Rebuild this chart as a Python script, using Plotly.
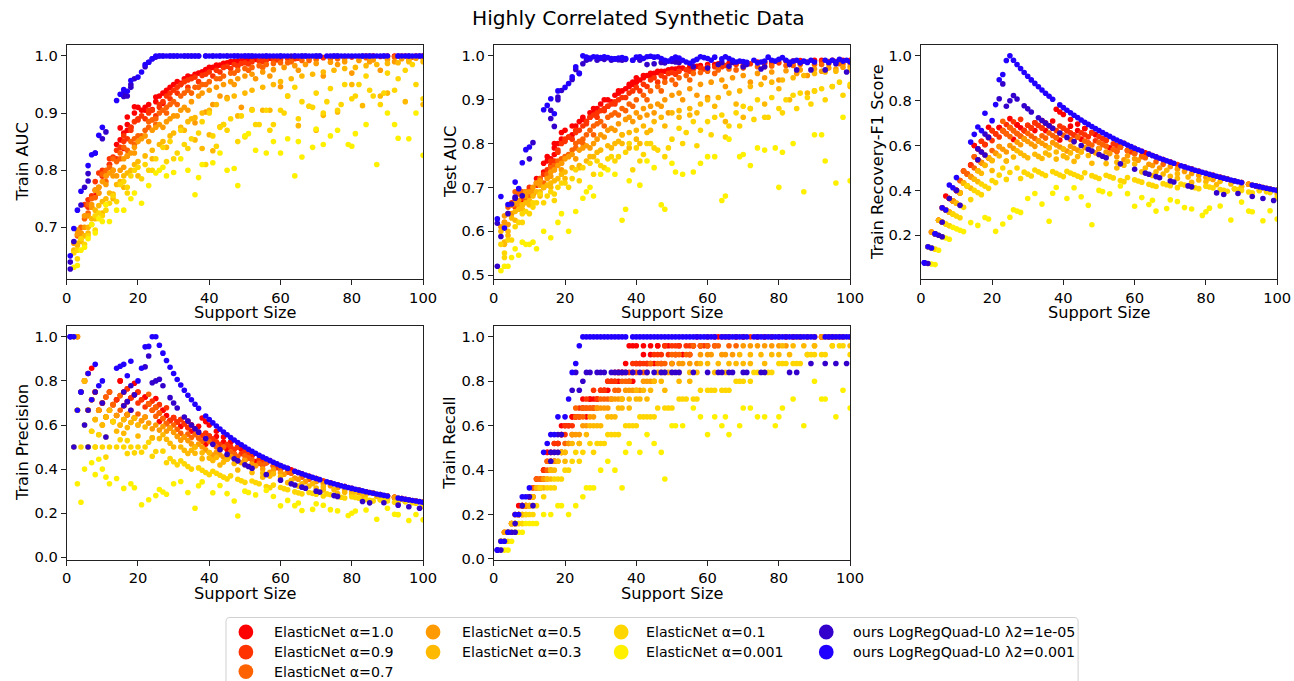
import plotly.graph_objects as go

# The photographed picture shows the page slightly reduced (about 0.990 x 0.9875), so
# the figure is made a little larger than 1294x681 and reference pixel positions are
# divided by these factors before use.
SX, SY = 0.990, 0.9875
W, H = 1310, 690
N_TRUE = 25  # number of truly relevant features (recall moves in steps of 0.04)

# ---------------- data (support size, true positives found, train AUC, test AUC) ----------------
en100_support = [7, 8, 10, 12, 14, 14, 15, 16, 17, 17,
                 18, 19, 20, 21, 22, 23, 24, 25, 26, 27,
                 28, 29, 30, 31, 32, 33, 34, 35, 36, 37,
                 38, 39, 40, 41, 42, 43, 44, 45, 46, 47,
                 48, 50, 51, 53, 55, 56, 58, 60, 63, 66,
                 70, 74, 78, 82, 86, 90, 95, 100,
                 15, 16, 17, 19, 22, 25, 27, 28, 32, 35,
                 38, 39, 40, 42, 44, 46, 49, 52, 57, 62,
                 68, 76, 84, 92, 98]
en100_true_pos = [6, 6, 7, 9, 10, 10, 12, 12, 12, 11,
                  13, 15, 15, 15, 16, 16, 16, 17, 16, 18,
                  18, 18, 19, 19, 19, 20, 21, 20, 21, 22,
                  20, 20, 22, 22, 23, 22, 23, 22, 24, 22,
                  24, 22, 23, 23, 23, 24, 24, 24, 25, 25,
                  25, 25, 25, 25, 25, 25, 25, 25,
                  12, 11, 13, 14, 16, 18, 18, 17, 20, 21,
                  24, 24, 24, 24, 24, 24, 24, 24, 25, 25,
                  25, 25, 25, 25, 25]
en100_train_auc = [0.752, 0.755, 0.79, 0.81, 0.845, 0.818, 0.853, 0.865, 0.87, 0.88,
                   0.875, 0.9, 0.91, 0.905, 0.91, 0.915, 0.906, 0.92, 0.93, 0.935,
                   0.94, 0.945, 0.95, 0.955, 0.95, 0.96, 0.965, 0.962, 0.968, 0.97,
                   0.972, 0.974, 0.978, 0.98, 0.982, 0.984, 0.986, 0.988, 0.989, 0.99,
                   0.991, 0.992, 0.993, 0.994, 0.995, 0.995, 0.996, 0.997, 0.997, 0.998,
                   0.998, 0.999, 0.999, 0.999, 1.0, 1.0, 1.0, 1.0,
                   0.874, 0.838, 0.893, 0.911, 0.905, 0.928, 0.917, 0.937, 0.952, 0.963,
                   0.972, 0.976, 0.98, 0.984, 0.987, 0.99, 0.992, 0.994, 0.996, 0.997,
                   0.998, 0.999, 1.0, 1.0, 1.0]
en100_test_auc = [0.662, 0.668, 0.69, 0.72, 0.755, 0.735, 0.77, 0.765, 0.79, 0.775,
                  0.8, 0.825, 0.83, 0.815, 0.82, 0.84, 0.85, 0.855, 0.85, 0.87,
                  0.87, 0.88, 0.89, 0.9, 0.885, 0.895, 0.91, 0.915, 0.92, 0.925,
                  0.93, 0.935, 0.94, 0.945, 0.95, 0.955, 0.955, 0.96, 0.962, 0.965,
                  0.965, 0.97, 0.97, 0.972, 0.975, 0.975, 0.978, 0.98, 0.982, 0.983,
                  0.985, 0.986, 0.987, 0.988, 0.989, 0.99, 0.99, 0.99,
                  0.76, 0.745, 0.8, 0.81, 0.84, 0.86, 0.86, 0.88, 0.9, 0.92,
                  0.935, 0.94, 0.95, 0.955, 0.96, 0.965, 0.968, 0.972, 0.976, 0.98,
                  0.983, 0.986, 0.988, 0.99, 0.99]

en090_support = [5, 6, 7, 8, 9, 10, 11, 12, 13, 14,
                 15, 16, 17, 18, 19, 20, 22, 23, 24, 25,
                 26, 27, 28, 29, 30, 31, 32, 33, 34, 35,
                 36, 38, 39, 40, 42, 44, 45, 47, 49, 50,
                 52, 54, 56, 58, 60, 62, 65, 68, 72, 76,
                 80, 84, 88, 92, 96, 100,
                 6, 8, 10, 12, 14, 16, 18, 20, 21, 23,
                 26, 29, 31, 34, 37, 41, 43, 46, 48, 51,
                 55, 59, 64, 70, 78, 86, 94]
en090_true_pos = [4, 5, 5, 6, 6, 7, 8, 8, 9, 10,
                  11, 11, 13, 13, 14, 15, 15, 16, 17, 17,
                  18, 17, 19, 18, 19, 19, 20, 20, 20, 21,
                  21, 21, 22, 22, 22, 22, 23, 23, 23, 24,
                  24, 24, 24, 24, 25, 24, 25, 25, 25, 25,
                  25, 25, 25, 25, 25, 25,
                  4, 6, 7, 9, 9, 12, 13, 14, 15, 16,
                  17, 18, 19, 20, 21, 22, 22, 23, 24, 24,
                  24, 24, 25, 25, 25, 25, 25]
en090_train_auc = [0.74, 0.748, 0.755, 0.78, 0.795, 0.8, 0.79, 0.82, 0.823, 0.82,
                   0.84, 0.85, 0.855, 0.875, 0.885, 0.888, 0.89, 0.9, 0.905, 0.895,
                   0.91, 0.92, 0.93, 0.935, 0.94, 0.945, 0.95, 0.955, 0.958, 0.96,
                   0.963, 0.966, 0.968, 0.972, 0.975, 0.98, 0.982, 0.985, 0.987, 0.988,
                   0.99, 0.991, 0.992, 0.993, 0.994, 0.995, 0.996, 0.996, 0.997, 0.998,
                   0.998, 0.999, 0.999, 0.999, 0.999, 1.0,
                   0.735, 0.765, 0.79, 0.81, 0.835, 0.86, 0.87, 0.89, 0.895, 0.905,
                   0.915, 0.925, 0.935, 0.945, 0.955, 0.965, 0.972, 0.978, 0.982, 0.986,
                   0.99, 0.993, 0.995, 0.997, 0.998, 0.999, 1.0]
en090_test_auc = [0.665, 0.67, 0.66, 0.675, 0.69, 0.7, 0.685, 0.71, 0.72, 0.7,
                  0.74, 0.75, 0.76, 0.785, 0.8, 0.805, 0.81, 0.825, 0.83, 0.84,
                  0.845, 0.86, 0.865, 0.87, 0.875, 0.88, 0.885, 0.89, 0.895, 0.9,
                  0.905, 0.915, 0.92, 0.928, 0.935, 0.945, 0.95, 0.955, 0.96, 0.962,
                  0.965, 0.968, 0.97, 0.972, 0.975, 0.975, 0.978, 0.98, 0.982, 0.983,
                  0.984, 0.985, 0.986, 0.987, 0.987, 0.988,
                  0.655, 0.68, 0.695, 0.705, 0.73, 0.76, 0.78, 0.81, 0.815, 0.83,
                  0.85, 0.86, 0.875, 0.89, 0.905, 0.92, 0.93, 0.94, 0.95, 0.958,
                  0.965, 0.97, 0.975, 0.978, 0.982, 0.985, 0.987]

en070_support = [3, 4, 5, 6, 7, 8, 9, 10, 11, 12,
                 13, 14, 15, 16, 17, 18, 19, 20, 22, 23,
                 24, 25, 26, 27, 28, 29, 30, 32, 33, 34,
                 36, 38, 40, 42, 44, 46, 48, 50, 52, 54,
                 56, 58, 60, 63, 66, 70, 74, 78, 82, 86,
                 90, 94, 98, 100,
                 4, 6, 7, 9, 11, 13, 15, 17, 19, 21,
                 23, 25, 28, 31, 35, 37, 39, 43, 47, 51,
                 55, 62, 68, 76, 84, 92, 97]
en070_true_pos = [3, 3, 4, 5, 5, 6, 6, 7, 7, 9,
                  9, 9, 11, 11, 11, 12, 12, 13, 14, 17,
                  16, 16, 17, 17, 17, 17, 18, 18, 18, 19,
                  20, 20, 21, 21, 22, 22, 22, 23, 23, 23,
                  24, 24, 24, 24, 24, 25, 25, 25, 25, 25,
                  25, 25, 25, 25,
                  3, 4, 5, 6, 8, 9, 10, 11, 12, 13,
                  16, 17, 17, 18, 19, 20, 21, 21, 22, 23,
                  23, 24, 24, 25, 25, 25, 25]
en070_train_auc = [0.685, 0.69, 0.715, 0.74, 0.75, 0.752, 0.77, 0.793, 0.8, 0.805,
                   0.82, 0.815, 0.83, 0.84, 0.835, 0.85, 0.855, 0.86, 0.87, 0.885,
                   0.888, 0.89, 0.9, 0.905, 0.91, 0.915, 0.92, 0.93, 0.935, 0.94,
                   0.945, 0.95, 0.955, 0.96, 0.965, 0.97, 0.975, 0.978, 0.98, 0.983,
                   0.985, 0.987, 0.988, 0.99, 0.992, 0.994, 0.995, 0.996, 0.997, 0.997,
                   0.998, 0.998, 0.998, 0.999,
                   0.7, 0.725, 0.735, 0.76, 0.78, 0.8, 0.82, 0.825, 0.845, 0.86,
                   0.875, 0.88, 0.9, 0.915, 0.935, 0.945, 0.95, 0.96, 0.97, 0.975,
                   0.98, 0.988, 0.992, 0.995, 0.997, 0.998, 0.998]
en070_test_auc = [0.62, 0.64, 0.66, 0.69, 0.695, 0.69, 0.675, 0.68, 0.69, 0.71,
                  0.72, 0.71, 0.73, 0.745, 0.75, 0.76, 0.765, 0.77, 0.785, 0.8,
                  0.805, 0.81, 0.82, 0.83, 0.84, 0.845, 0.85, 0.86, 0.865, 0.87,
                  0.88, 0.89, 0.9, 0.91, 0.92, 0.93, 0.94, 0.945, 0.95, 0.955,
                  0.96, 0.962, 0.965, 0.968, 0.97, 0.972, 0.975, 0.977, 0.978, 0.98,
                  0.98, 0.982, 0.982, 0.983,
                  0.655, 0.66, 0.685, 0.67, 0.685, 0.71, 0.725, 0.74, 0.755, 0.775,
                  0.79, 0.8, 0.82, 0.84, 0.865, 0.875, 0.885, 0.9, 0.92, 0.935,
                  0.945, 0.96, 0.968, 0.975, 0.978, 0.98, 0.982]

en050_support = [2, 3, 4, 5, 6, 7, 8, 9, 10, 11,
                 12, 13, 14, 15, 16, 17, 18, 19, 20, 21,
                 22, 24, 25, 26, 28, 29, 30, 32, 33, 35,
                 37, 38, 40, 42, 44, 46, 48, 50, 52, 55,
                 58, 61, 64, 67, 70, 74, 78, 82, 86, 90,
                 94, 98, 100,
                 3, 5, 7, 9, 11, 13, 16, 19, 23, 27,
                 31, 34, 36, 39, 41, 43, 45, 47, 49, 53,
                 57, 60, 65, 72, 76, 80, 85, 88, 92, 96]
en050_true_pos = [2, 3, 3, 4, 4, 5, 5, 6, 6, 7,
                  8, 8, 9, 9, 10, 11, 11, 12, 12, 13,
                  14, 14, 15, 15, 16, 17, 17, 17, 18, 18,
                  19, 19, 19, 20, 20, 21, 21, 22, 22, 22,
                  23, 23, 23, 23, 24, 24, 24, 24, 25, 25,
                  25, 25, 25,
                  3, 4, 5, 6, 7, 8, 10, 12, 14, 16,
                  17, 18, 18, 19, 19, 20, 20, 21, 21, 22,
                  22, 23, 23, 24, 24, 24, 25, 25, 25, 25]
en050_train_auc = [0.672, 0.688, 0.69, 0.7, 0.72, 0.74, 0.765, 0.77, 0.78, 0.79,
                   0.795, 0.8, 0.79, 0.8, 0.82, 0.825, 0.83, 0.84, 0.85, 0.855,
                   0.86, 0.87, 0.875, 0.88, 0.885, 0.89, 0.895, 0.905, 0.91, 0.92,
                   0.93, 0.935, 0.94, 0.945, 0.95, 0.955, 0.96, 0.965, 0.968, 0.972,
                   0.976, 0.98, 0.983, 0.985, 0.987, 0.989, 0.99, 0.992, 0.993, 0.994,
                   0.995, 0.996, 0.996,
                   0.695, 0.72, 0.735, 0.76, 0.775, 0.79, 0.805, 0.83, 0.85, 0.875,
                   0.895, 0.905, 0.883, 0.902, 0.915, 0.93, 0.927, 0.95, 0.91, 0.96,
                   0.965, 0.946, 0.975, 0.965, 0.985, 0.97, 0.99, 0.975, 0.99, 0.993]
en050_test_auc = [0.61, 0.635, 0.615, 0.64, 0.665, 0.67, 0.66, 0.69, 0.69, 0.7,
                  0.71, 0.715, 0.7, 0.72, 0.735, 0.74, 0.75, 0.755, 0.765, 0.77,
                  0.775, 0.785, 0.79, 0.795, 0.8, 0.81, 0.82, 0.83, 0.835, 0.845,
                  0.855, 0.86, 0.87, 0.88, 0.885, 0.89, 0.9, 0.91, 0.915, 0.925,
                  0.935, 0.94, 0.945, 0.95, 0.955, 0.96, 0.963, 0.966, 0.968, 0.97,
                  0.972, 0.974, 0.975,
                  0.62, 0.66, 0.66, 0.68, 0.69, 0.705, 0.725, 0.74, 0.765, 0.79,
                  0.815, 0.83, 0.82, 0.85, 0.86, 0.865, 0.87, 0.885, 0.87, 0.9,
                  0.91, 0.905, 0.93, 0.94, 0.95, 0.945, 0.96, 0.955, 0.965, 0.97]

en030_support = [2, 3, 4, 5, 6, 7, 8, 9, 10, 11,
                 12, 13, 14, 15, 16, 17, 18, 19, 20, 22,
                 24, 26, 27, 29, 30, 32, 34, 35, 36, 38,
                 40, 42, 45, 47, 50, 52, 55, 58, 60, 63,
                 66, 69, 72, 75, 78, 81, 84, 87, 90, 93,
                 96, 100,
                 3, 4, 6, 8, 10, 13, 16, 20, 24, 28,
                 33, 36, 38, 40, 41, 43, 44, 48, 52, 55,
                 57, 62, 65, 68, 70, 72, 76, 80, 83, 88,
                 90, 95, 100]
en030_true_pos = [2, 2, 3, 4, 4, 4, 5, 5, 6, 7,
                  8, 8, 8, 9, 10, 10, 11, 12, 12, 13,
                  13, 14, 15, 15, 15, 16, 16, 17, 18, 18,
                  19, 19, 20, 20, 21, 21, 21, 22, 22, 22,
                  22, 23, 23, 23, 23, 24, 24, 24, 24, 25,
                  25, 25,
                  2, 3, 4, 5, 6, 8, 9, 11, 13, 15,
                  16, 17, 17, 18, 18, 18, 19, 19, 20, 20,
                  21, 21, 21, 22, 22, 22, 22, 23, 23, 23,
                  24, 24, 24]
en030_train_auc = [0.66, 0.668, 0.675, 0.685, 0.7, 0.715, 0.73, 0.738, 0.745, 0.75,
                   0.76, 0.758, 0.775, 0.78, 0.79, 0.795, 0.8, 0.81, 0.815, 0.825,
                   0.835, 0.845, 0.85, 0.86, 0.865, 0.875, 0.885, 0.89, 0.892, 0.9,
                   0.905, 0.915, 0.925, 0.93, 0.935, 0.94, 0.945, 0.95, 0.955, 0.96,
                   0.965, 0.968, 0.972, 0.975, 0.978, 0.98, 0.983, 0.985, 0.987, 0.988,
                   0.99, 0.99,
                   0.672, 0.68, 0.69, 0.715, 0.725, 0.75, 0.77, 0.79, 0.82, 0.84,
                   0.87, 0.853, 0.838, 0.862, 0.834, 0.876, 0.88, 0.895, 0.906, 0.905,
                   0.905, 0.93, 0.878, 0.912, 0.87, 0.896, 0.902, 0.95, 0.913, 0.93,
                   0.935, 0.92, 0.915]
en030_test_auc = [0.6, 0.57, 0.6, 0.63, 0.645, 0.65, 0.66, 0.665, 0.67, 0.68,
                  0.69, 0.69, 0.7, 0.705, 0.71, 0.715, 0.72, 0.73, 0.735, 0.745,
                  0.75, 0.76, 0.77, 0.78, 0.785, 0.795, 0.8, 0.805, 0.82, 0.825,
                  0.83, 0.84, 0.85, 0.86, 0.87, 0.875, 0.88, 0.89, 0.9, 0.905,
                  0.915, 0.92, 0.93, 0.935, 0.94, 0.945, 0.95, 0.955, 0.96, 0.963,
                  0.965, 0.968,
                  0.575, 0.59, 0.625, 0.65, 0.66, 0.68, 0.7, 0.72, 0.745, 0.77,
                  0.79, 0.8, 0.79, 0.81, 0.8, 0.825, 0.83, 0.84, 0.86, 0.865,
                  0.87, 0.885, 0.85, 0.89, 0.86, 0.88, 0.89, 0.925, 0.9, 0.915,
                  0.92, 0.93, 0.93]

en010_support = [2, 3, 4, 6, 7, 8, 9, 10, 11, 12,
                 13, 15, 16, 17, 18, 19, 20, 22, 23, 25,
                 27, 29, 30, 32, 33, 35, 37, 38, 40, 41,
                 43, 44, 46, 49, 50, 52, 54, 56, 58, 60,
                 62, 64, 66, 68, 70, 72, 74, 76, 78, 80,
                 82, 84, 86, 88, 90, 92, 95, 97, 100,
                 3, 5, 8, 11, 14, 17, 21, 24, 28, 31,
                 34, 39, 42, 45, 48, 53, 57, 61, 65, 69,
                 73, 77, 81, 85, 89, 93, 98]
en010_true_pos = [2, 2, 2, 3, 4, 4, 5, 5, 5, 6,
                  8, 8, 8, 9, 9, 9, 10, 11, 12, 12,
                  13, 13, 13, 14, 14, 14, 15, 15, 15, 16,
                  16, 16, 17, 17, 17, 18, 18, 18, 19, 19,
                  19, 19, 19, 20, 20, 20, 21, 21, 21, 22,
                  22, 22, 22, 23, 23, 23, 24, 24, 23,
                  2, 3, 4, 6, 7, 8, 10, 11, 12, 13,
                  14, 15, 16, 16, 17, 18, 18, 19, 19, 20,
                  21, 21, 22, 22, 23, 23, 24]
en010_train_auc = [0.655, 0.66, 0.68, 0.685, 0.705, 0.72, 0.725, 0.72, 0.74, 0.742,
                   0.755, 0.775, 0.78, 0.76, 0.79, 0.8, 0.805, 0.81, 0.8, 0.82,
                   0.84, 0.85, 0.82, 0.87, 0.845, 0.855, 0.865, 0.885, 0.9, 0.86,
                   0.875, 0.88, 0.89, 0.895, 0.858, 0.905, 0.88, 0.905, 0.88, 0.905,
                   0.93, 0.945, 0.92, 0.912, 0.935, 0.9, 0.943, 0.905, 0.95, 0.925,
                   0.95, 0.965, 0.93, 0.915, 0.97, 0.94, 0.975, 0.985, 0.925,
                   0.645, 0.67, 0.695, 0.73, 0.745, 0.77, 0.785, 0.8, 0.815, 0.83,
                   0.838, 0.81, 0.842, 0.87, 0.85, 0.88, 0.87, 0.9, 0.89, 0.91,
                   0.92, 0.915, 0.93, 0.94, 0.935, 0.96, 0.95]
en010_test_auc = [0.57, 0.55, 0.58, 0.61, 0.62, 0.64, 0.645, 0.64, 0.665, 0.665,
                  0.685, 0.68, 0.69, 0.67, 0.7, 0.71, 0.71, 0.72, 0.74, 0.745,
                  0.755, 0.76, 0.75, 0.765, 0.77, 0.77, 0.78, 0.8, 0.79, 0.76,
                  0.8, 0.8, 0.785, 0.79, 0.81, 0.835, 0.825, 0.85, 0.83, 0.85,
                  0.86, 0.865, 0.84, 0.87, 0.885, 0.88, 0.9, 0.86, 0.905, 0.88,
                  0.9, 0.91, 0.915, 0.905, 0.92, 0.925, 0.93, 0.94, 0.935,
                  0.54, 0.58, 0.62, 0.655, 0.665, 0.685, 0.7, 0.715, 0.73, 0.745,
                  0.76, 0.74, 0.775, 0.79, 0.77, 0.8, 0.795, 0.82, 0.815, 0.84,
                  0.855, 0.86, 0.87, 0.88, 0.89, 0.9, 0.91]

en0001_support = [2, 3, 4, 5, 6, 7, 8, 9, 10, 11,
                  12, 14, 16, 18, 19, 21, 23, 25, 26, 27,
                  28, 30, 32, 34, 36, 37, 38, 41, 43, 45,
                  47, 48, 50, 51, 53, 56, 58, 60, 62, 64,
                  65, 66, 69, 70, 72, 74, 76, 79, 80, 81,
                  84, 87, 90, 92, 93, 96, 98, 100]
en0001_true_pos = [1, 1, 1, 2, 3, 3, 3, 4, 4, 4,
                   4, 5, 5, 6, 6, 5, 6, 7, 8, 8,
                   8, 10, 11, 10, 8, 12, 13, 12, 14, 13,
                   12, 9, 15, 15, 15, 17, 16, 14, 16, 15,
                   16, 14, 15, 17, 17, 16, 16, 15, 16, 17,
                   18, 15, 20, 18, 18, 16, 19, 17]
en0001_train_auc = [0.63, 0.633, 0.66, 0.665, 0.68, 0.705, 0.69, 0.715, 0.71, 0.74,
                    0.71, 0.73, 0.73, 0.75, 0.76, 0.742, 0.773, 0.795, 0.8, 0.805,
                    0.79, 0.796, 0.82, 0.8, 0.757, 0.787, 0.81, 0.813, 0.83, 0.8,
                    0.803, 0.773, 0.86, 0.864, 0.835, 0.83, 0.85, 0.83, 0.855, 0.79,
                    0.85, 0.823, 0.84, 0.872, 0.845, 0.86, 0.87, 0.845, 0.842, 0.864,
                    0.88, 0.81, 0.9, 0.88, 0.856, 0.855, 0.9, 0.826]
en0001_test_auc = [0.51, 0.52, 0.52, 0.54, 0.56, 0.545, 0.575, 0.57, 0.57, 0.575,
                   0.56, 0.6, 0.585, 0.62, 0.64, 0.6, 0.645, 0.675, 0.69, 0.7,
                   0.68, 0.73, 0.74, 0.73, 0.625, 0.65, 0.715, 0.705, 0.76, 0.745,
                   0.66, 0.65, 0.755, 0.735, 0.73, 0.735, 0.755, 0.77, 0.77, 0.67,
                   0.68, 0.81, 0.77, 0.775, 0.75, 0.79, 0.785, 0.79, 0.7, 0.78,
                   0.8, 0.69, 0.82, 0.82, 0.76, 0.71, 0.86, 0.715]

ours_l5_support = [1, 1, 2, 4, 5, 6, 6, 8, 10, 11,
                   16, 16, 17, 18, 18, 19, 22, 23, 24, 25,
                   26, 27, 29, 30, 31, 33, 34, 35, 36, 37,
                   39, 41, 43, 45, 47, 48, 50, 51, 52, 56,
                   60, 63, 64, 66, 67, 70, 71, 75, 76, 83,
                   85, 89, 93, 96, 99]
ours_l5_true_pos = [1, 1, 1, 3, 3, 4, 3, 6, 7, 6,
                    12, 11, 12, 14, 12, 14, 19, 21, 19, 20,
                    21, 21, 21, 21, 21, 21, 21, 21, 21, 21,
                    21, 21, 21, 21, 21, 21, 21, 21, 21, 21,
                    21, 21, 21, 21, 21, 21, 21, 21, 21, 21,
                    21, 22, 22, 22, 22]
ours_l5_train_auc = [0.627, 0.639, 0.675, 0.739, 0.77, 0.794, 0.781, 0.83, 0.855, 0.867,
                     0.929, 0.935, 0.93, 0.95, 0.945, 0.96, 0.981, 0.989, 0.995, 0.998,
                     1.0, 1.0, 1.0, 1.0, 1.0, 1.0, 1.0, 1.0, 1.0, 1.0,
                     1.0, 1.0, 1.0, 1.0, 1.0, 1.0, 1.0, 1.0, 1.0, 1.0,
                     1.0, 1.0, 1.0, 1.0, 1.0, 1.0, 1.0, 1.0, 1.0, 1.0,
                     1.0, 1.0, 1.0, 1.0, 1.0]
ours_l5_test_auc = [0.52, 0.618, 0.588, 0.64, 0.662, 0.678, 0.675, 0.681, 0.765, 0.802,
                    0.876, 0.857, 0.839, 0.906, 0.9, 0.921, 0.946, 0.969, 0.96, 0.982,
                    0.99, 0.993, 0.99, 0.994, 0.992, 0.99, 0.993, 0.991, 0.99, 0.992,
                    0.99, 0.99, 0.98, 0.982, 0.985, 0.984, 0.987, 0.986, 0.985, 0.975,
                    0.972, 0.98, 0.985, 0.976, 0.985, 0.975, 0.98, 0.97, 0.975, 0.98,
                    0.968, 0.968, 0.968, 0.982, 0.963]

ours_l3_support = [1, 2, 3, 4, 6, 7, 8, 9, 10, 14,
                   15, 16, 17, 18, 20, 21, 22, 23, 24, 25,
                   26, 27, 28, 29, 30, 31, 32, 33, 34, 35,
                   36, 37, 39, 40, 41, 42, 43, 44, 45, 46,
                   47, 48, 49, 50, 51, 52, 53, 54, 55, 56,
                   57, 58, 59, 60, 61, 62, 64, 65, 66, 67,
                   68, 69, 70, 71, 73, 74, 75, 76, 77, 78,
                   79, 80, 81, 82, 83, 84, 85, 86, 87, 88,
                   89, 90, 93, 94, 95, 96, 97, 98, 99, 100]
ours_l3_true_pos = [1, 2, 2, 3, 5, 5, 7, 7, 8, 12,
                    13, 14, 14, 16, 16, 18, 21, 22, 24, 25,
                    25, 25, 25, 25, 25, 25, 25, 25, 25, 25,
                    25, 25, 25, 25, 25, 25, 25, 25, 25, 25,
                    25, 25, 25, 25, 25, 25, 25, 25, 25, 25,
                    25, 25, 25, 25, 25, 25, 25, 25, 25, 25,
                    25, 25, 25, 25, 25, 25, 25, 25, 25, 25,
                    25, 25, 25, 25, 25, 25, 25, 25, 25, 25,
                    25, 25, 25, 25, 25, 25, 25, 25, 25, 25]
ours_l3_train_auc = [0.65, 0.698, 0.73, 0.763, 0.808, 0.827, 0.83, 0.861, 0.875, 0.922,
                     0.933, 0.941, 0.938, 0.957, 0.963, 0.972, 0.985, 0.989, 0.995, 1.0,
                     1.0, 1.0, 1.0, 1.0, 1.0, 1.0, 1.0, 1.0, 1.0, 1.0,
                     1.0, 1.0, 1.0, 1.0, 1.0, 1.0, 1.0, 1.0, 1.0, 1.0,
                     1.0, 1.0, 1.0, 1.0, 1.0, 1.0, 1.0, 1.0, 1.0, 1.0,
                     1.0, 1.0, 1.0, 1.0, 1.0, 1.0, 1.0, 1.0, 1.0, 1.0,
                     1.0, 1.0, 1.0, 1.0, 1.0, 1.0, 1.0, 1.0, 1.0, 1.0,
                     1.0, 1.0, 1.0, 1.0, 1.0, 1.0, 1.0, 1.0, 1.0, 1.0,
                     1.0, 1.0, 1.0, 1.0, 1.0, 1.0, 1.0, 1.0, 1.0, 1.0]
ours_l3_test_auc = [0.628, 0.679, 0.607, 0.661, 0.712, 0.697, 0.756, 0.786, 0.792, 0.877,
                    0.887, 0.902, 0.868, 0.92, 0.928, 0.937, 0.952, 0.975, 0.96, 1.0,
                    0.997, 0.995, 0.998, 0.997, 0.996, 0.998, 0.996, 0.994, 0.993, 0.995,
                    0.996, 0.994, 0.99, 0.997, 0.998, 0.994, 0.998, 0.999, 0.997, 0.998,
                    0.994, 0.99, 0.988, 0.993, 0.997, 0.995, 0.99, 0.986, 0.983, 0.988,
                    0.992, 0.998, 0.996, 0.994, 0.99, 0.997, 0.993, 0.998, 0.994, 0.99,
                    0.986, 0.988, 0.987, 0.985, 0.99, 0.984, 0.986, 0.988, 0.997, 0.99,
                    0.988, 0.992, 0.996, 0.99, 0.985, 0.988, 0.99, 0.984, 0.988, 0.985,
                    0.99, 0.986, 0.99, 0.985, 0.99, 0.986, 0.992, 0.988, 0.99, 0.986]

series_names = ["ElasticNet α=1.0", "ElasticNet α=0.9", "ElasticNet α=0.7",
                "ElasticNet α=0.5", "ElasticNet α=0.3", "ElasticNet α=0.1",
                "ElasticNet α=0.001", "ours LogRegQuad-L0 λ2=1e-05",
                "ours LogRegQuad-L0 λ2=0.001"]
series_colors = ["#FF0000", "#FF3300", "#FF6200", "#FF9A00", "#FFB900",
                 "#FFD600", "#FFF000", "#3300CC", "#2200FF"]
series_data = [
    (en100_support, en100_true_pos, en100_train_auc, en100_test_auc),
    (en090_support, en090_true_pos, en090_train_auc, en090_test_auc),
    (en070_support, en070_true_pos, en070_train_auc, en070_test_auc),
    (en050_support, en050_true_pos, en050_train_auc, en050_test_auc),
    (en030_support, en030_true_pos, en030_train_auc, en030_test_auc),
    (en010_support, en010_true_pos, en010_train_auc, en010_test_auc),
    (en0001_support, en0001_true_pos, en0001_train_auc, en0001_test_auc),
    (ours_l5_support, ours_l5_true_pos, ours_l5_train_auc, ours_l5_test_auc),
    (ours_l3_support, ours_l3_true_pos, ours_l3_train_auc, ours_l3_test_auc),
]

x_ticks = [0, 20, 40, 60, 80, 100]
panel_titles = ["Train AUC", "Test AUC", "Train Recovery-F1 Score",
                "Train Precision", "Train Recall"]
panel_yticks = [[0.7, 0.8, 0.9, 1.0],
                [0.5, 0.6, 0.7, 0.8, 0.9, 1.0],
                [0.2, 0.4, 0.6, 0.8, 1.0],
                [0.0, 0.2, 0.4, 0.6, 0.8, 1.0],
                [0.0, 0.2, 0.4, 0.6, 0.8, 1.0]]


def metric(idx, key):
    support, tp, train, test = series_data[idx]
    n = min(len(support), len(tp), len(train), len(test))
    support, tp, train, test = support[:n], tp[:n], train[:n], test[:n]
    if key == "train":
        return train
    if key == "test":
        return test
    if key == "f1":
        return [2 * t / (k + N_TRUE) for t, k in zip(tp, support)]
    if key == "prec":
        return [t / k for t, k in zip(tp, support)]
    return [t / N_TRUE for t in tp]


# ---------------- layout geometry (reference pixels -> paper fractions) ----------------
def fx(px):
    return px / SX / W


def fy(py):
    return 1 - py / SY / H


panel_keys = ["train", "test", "f1", "prec", "rec"]
panel_px_x = [(62, 420), (491, 849), (920, 1278), (62, 420), (491, 849)]
panel_px_y = [(45, 278.3), (45, 278.3), (45, 278.3), (325, 558.3), (325, 558.3)]
panel_yrange = [[0.6095, 1.019], [0.491, 1.0245], [0.005, 1.048],
                [-0.0105, 1.05], [-0.003, 1.05]]
ytitle_px_x = [17.5, 447, 876, 17.5, 447]

FONT = "DejaVu Sans"
fig = go.Figure()
annotations = []
layout_axes = {}

for p, key in enumerate(panel_keys):
    n = p + 1
    xa = "x" if n == 1 else f"x{n}"
    ya = "y" if n == 1 else f"y{n}"
    for i, name in enumerate(series_names):
        sup = series_data[i][0]
        fig.add_trace(go.Scatter(
            x=sup[:len(metric(i, key))], y=metric(i, key), mode="markers", name=name,
            marker=dict(color=series_colors[i], size=5.6, line=dict(width=0)),
            xaxis=xa, yaxis=ya, showlegend=False))
    x0, x1 = panel_px_x[p]
    y0, y1 = panel_px_y[p]
    common = dict(showline=True, mirror=True, linecolor="#222", linewidth=1,
                  showgrid=False, zeroline=False, ticks="outside", ticklen=5,
                  tickwidth=1, tickcolor="#222",
                  tickfont=dict(family=FONT, size=14.7, color="black"))
    layout_axes["xaxis" if n == 1 else f"xaxis{n}"] = dict(
        domain=[fx(x0), fx(x1)], anchor=ya, range=[0, 100],
        tickvals=x_ticks, ticktext=[str(v) for v in x_ticks], **common)
    layout_axes["yaxis" if n == 1 else f"yaxis{n}"] = dict(
        domain=[fy(y1), fy(y0)], anchor=xa, range=panel_yrange[p],
        tickvals=panel_yticks[p], ticktext=[f"{v:.1f}" for v in panel_yticks[p]],
        **common)
    annotations.append(dict(text="Support Size", xref="paper", yref="paper",
                            x=fx((x0 + x1) / 2), y=fy(y1 + 33.5), showarrow=False,
                            xanchor="center", yanchor="middle",
                            font=dict(family=FONT, size=16.2, color="black")))
    annotations.append(dict(text=panel_titles[p], xref="paper", yref="paper",
                            x=fx(ytitle_px_x[p]), y=fy((y0 + y1) / 2), showarrow=False,
                            textangle=-90, xanchor="center", yanchor="middle",
                            font=dict(family=FONT, size=16.2, color="black")))

annotations.append(dict(text="Highly Correlated Synthetic Data", xref="paper", yref="paper",
                        x=fx(636), y=fy(18), showarrow=False, xanchor="center",
                        yanchor="middle", font=dict(family=FONT, size=20.2, color="black")))

# ---------------- legend (drawn manually, 4 columns) ----------------
legend_col_marker = [242, 430, 619, 825]
legend_col_text = [268, 457, 642, 850]
legend_row_y = [630.5, 650.5, 670]
legend_slots = [(0, 0), (0, 1), (0, 2), (1, 0), (1, 1), (2, 0), (2, 1), (3, 0), (3, 1)]

shapes = []
bx0, bx1, by0, r = 222, 1078, 616, 4
shapes.append(dict(
    type="path", xref="paper", yref="paper",
    path=(f"M {fx(bx0)},-0.01 L {fx(bx0)},{fy(by0 + r)} "
          f"Q {fx(bx0)},{fy(by0)} {fx(bx0 + r)},{fy(by0)} L {fx(bx1 - r)},{fy(by0)} "
          f"Q {fx(bx1)},{fy(by0)} {fx(bx1)},{fy(by0 + r)} L {fx(bx1)},-0.01"),
    line=dict(color="#d0d0d0", width=1)))
rad = 7.4
for i, (c, rr) in enumerate(legend_slots):
    mx, my = legend_col_marker[c], legend_row_y[rr]
    shapes.append(dict(type="circle", xref="paper", yref="paper",
                       x0=fx(mx - rad), x1=fx(mx + rad), y0=fy(my + rad), y1=fy(my - rad),
                       line=dict(width=0), fillcolor=series_colors[i]))
    annotations.append(dict(text=series_names[i], xref="paper", yref="paper",
                            x=fx(legend_col_text[c]), y=fy(my), showarrow=False,
                            xanchor="left", yanchor="middle",
                            font=dict(family=FONT, size=14.2, color="black")))

fig.update_layout(width=W, height=H, margin=dict(l=0, r=0, t=0, b=0),
                  paper_bgcolor="white", plot_bgcolor="white",
                  font=dict(family=FONT), showlegend=False,
                  annotations=annotations, shapes=shapes, **layout_axes)

fig.write_html("out.html", config={"displayModeBar": False},
               post_script="document.body.style.margin='0';document.body.style.overflow='hidden';")
